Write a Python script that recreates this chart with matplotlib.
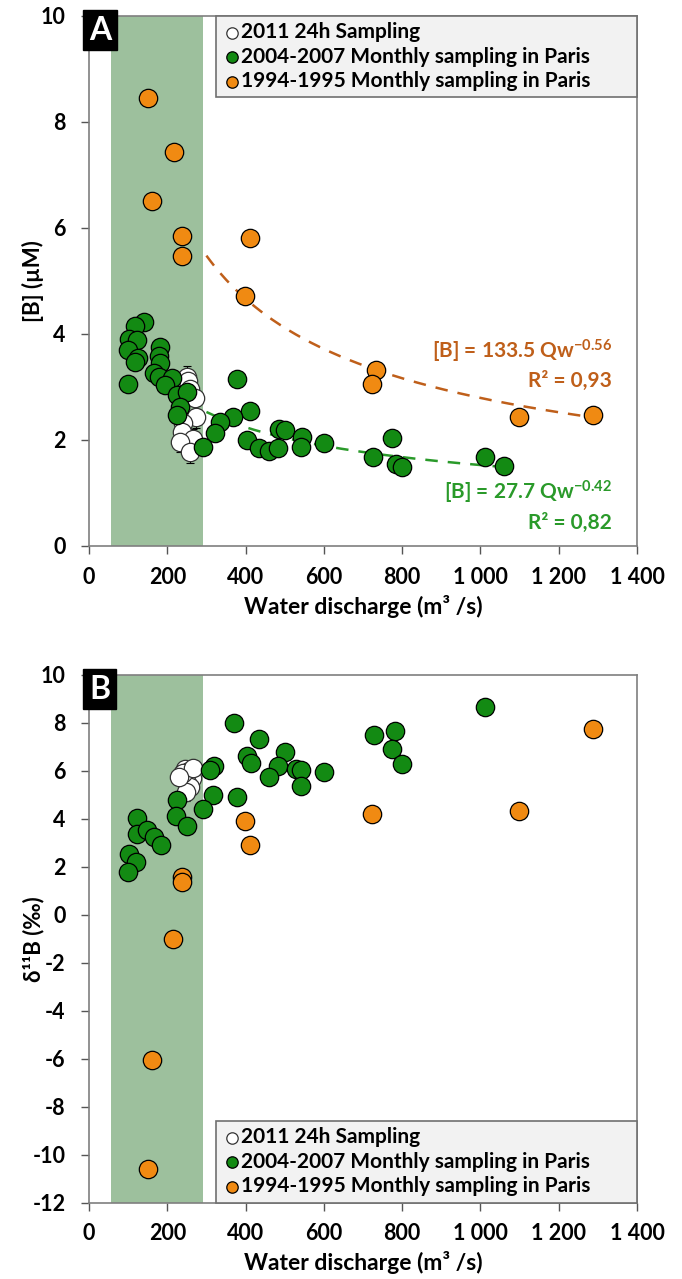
import numpy as np
import matplotlib
matplotlib.use("Agg")
import matplotlib.pyplot as plt
from matplotlib.ticker import FuncFormatter

plt.rcParams['font.family'] = ['Lato', 'DejaVu Sans']
plt.rcParams['font.weight'] = 'bold'
plt.rcParams['axes.unicode_minus'] = False
plt.rcParams['mathtext.fontset'] = 'custom'
plt.rcParams['mathtext.rm'] = 'Lato:bold'
plt.rcParams['mathtext.bf'] = 'Lato:bold'
plt.rcParams['mathtext.it'] = 'Lato:bold'
plt.rcParams['mathtext.default'] = 'bf'

# ---- data ----
# panel A : [B] (uM) vs water discharge (m3/s)
a_white_q = [250, 252, 258, 271, 273, 241, 237, 266, 232, 258]
a_white_b = [3.19, 3.10, 2.96, 2.78, 2.43, 2.31, 2.15, 2.01, 1.96, 1.77]

a_green_q = [141, 117, 103, 122, 100, 126, 117, 181, 179, 181, 166, 180, 99, 211,
             194, 224, 251, 232, 224, 377, 411, 369, 335, 322, 292, 403, 434, 460,
             484, 486, 502, 543, 541, 600, 726, 773, 784, 799, 1012, 1060]
a_green_b = [4.23, 4.15, 3.91, 3.89, 3.69, 3.54, 3.47, 3.75, 3.58, 3.44, 3.26, 3.19,
             3.05, 3.16, 3.03, 2.84, 2.91, 2.62, 2.47, 3.14, 2.54, 2.43, 2.34, 2.12,
             1.86, 1.99, 1.84, 1.79, 1.84, 2.21, 2.18, 2.06, 1.86, 1.93, 1.68, 2.04,
             1.54, 1.48, 1.67, 1.51]

a_orange_q = [151, 216, 162, 237, 237, 412, 398, 733, 723, 1099, 1288]
a_orange_b = [8.44, 7.43, 6.50, 5.84, 5.46, 5.81, 4.72, 3.31, 3.05, 2.42, 2.46]

# panel B : delta11B (permil) vs water discharge
b_white_q = [237, 245, 255, 262, 250, 258, 247, 240, 266, 230]
b_white_d = [5.85, 6.05, 6.00, 5.70, 5.50, 5.30, 5.10, 5.90, 6.10, 5.75]

b_green_q = [370, 435, 403, 413, 502, 482, 460, 529, 542, 541, 600, 320, 309, 377,
             316, 292, 224, 221, 251, 122, 123, 147, 166, 183, 103, 120, 100, 1012,
             729, 783, 773, 799]
b_green_d = [8.00, 7.31, 6.63, 6.31, 6.79, 6.21, 5.75, 6.07, 6.03, 5.38, 5.93, 6.21,
             6.03, 4.92, 4.99, 4.39, 4.78, 4.11, 3.70, 4.02, 3.36, 3.53, 3.22, 2.90,
             2.52, 2.21, 1.79, 8.64, 7.47, 7.65, 6.90, 6.27]

b_orange_q = [151, 162, 215, 237, 237, 398, 411, 724, 1099, 1288]
b_orange_d = [-10.6, -6.05, -1.03, 1.58, 1.38, 3.90, 2.90, 4.20, 4.32, 7.72]

# power-law fits  [B] = a * Qw^b
fit_orange = (133.5, -0.56, 300, 1290)
fit_green = (27.7, -0.42, 300, 1060)

low_flow = (55, 292)

legend_labels = ["2011 24h Sampling",
                 "2004-2007 Monthly sampling in Paris",
                 "1994-1995 Monthly sampling in Paris"]

C_GREEN = "#138a13"
C_ORANGE = "#f08a12"
C_SPAN = "#9dc09d"
C_ORFIT = "#bf5f1a"
C_GRFIT = "#2a9a2a"


def thousands(v, pos):
    v = int(round(v))
    if v >= 1000:
        return "{} {:03d}".format(v // 1000, v % 1000)
    return str(v)


def style_axes(ax, ylim, yticks):
    ax.set_xlim(0, 1400)
    ax.set_ylim(*ylim)
    ax.set_xticks(range(0, 1401, 200))
    ax.set_yticks(yticks)
    ax.xaxis.set_major_formatter(FuncFormatter(thousands))
    ax.tick_params(direction='out', length=6, width=1, color='#555555',
                   labelsize=15.5)
    ax.tick_params(axis='x', pad=9)
    ax.tick_params(axis='y', pad=11)
    for lab in ax.get_xticklabels() + ax.get_yticklabels():
        lab.set_fontweight('bold')
    for s in ax.spines.values():
        s.set_color('#7f7f7f')
        s.set_linewidth(1.2)
    ax.axvspan(low_flow[0], low_flow[1], color=C_SPAN, zorder=0, lw=0)
    ax.set_xlabel("Water discharge (m³ /s)", fontsize=16.5, fontweight='bold',
                  labelpad=5)


def panel_tag(ax, letter):
    ax.text(0.0, 1.0, letter, transform=ax.transAxes, ha='left', va='top',
            color='white', fontsize=23, fontweight='bold',
            bbox=dict(boxstyle='square,pad=0.18', fc='black', ec='black'),
            zorder=10)


def plot_points(ax, wq, wv, gq, gv, oq, ov, werr):
    ax.errorbar(wq, wv, yerr=werr, fmt='none', ecolor='black', elinewidth=0.8,
                capsize=3, capthick=0.8, zorder=2)
    h1 = ax.scatter(wq, wv, s=175, c='white', edgecolors='#333333',
                    linewidths=0.9, zorder=3)
    h2 = ax.scatter(gq, gv, s=175, c=C_GREEN, edgecolors='black',
                    linewidths=0.9, zorder=4)
    h3 = ax.scatter(oq, ov, s=175, c=C_ORANGE, edgecolors='black',
                    linewidths=0.9, zorder=5)
    return [h1, h2, h3]


def add_legend(ax, handles, box, loc):
    leg = ax.legend(handles, legend_labels, loc=loc,
                    bbox_to_anchor=box, mode='expand', fontsize=15,
                    markerscale=0.62, handletextpad=0.0, handlelength=0.9,
                    labelspacing=0.22, borderpad=0.3, fancybox=False,
                    framealpha=1, facecolor='#f2f2f2', edgecolor='#707070',
                    borderaxespad=0)
    leg.get_frame().set_linewidth(1.2)
    for t in leg.get_texts():
        t.set_fontweight('bold')
    leg.set_zorder(12)
    return leg


fig = plt.figure(figsize=(6.82, 12.79), dpi=100)
ax1 = fig.add_axes([0.1305, 0.5733, 0.8035, 0.4144])
ax2 = fig.add_axes([0.1305, 0.0597, 0.8035, 0.4128])

# ---- panel A ----
style_axes(ax1, (0, 10), range(0, 11, 2))
ax1.set_ylabel("[B] (µM)", fontsize=16, fontweight='bold')
ax1.yaxis.set_label_coords(-0.082, 0.5)
h = plot_points(ax1, a_white_q, a_white_b, a_green_q, a_green_b,
                a_orange_q, a_orange_b, 0.2)

for (a, b, q0, q1), col in [(fit_orange, C_ORFIT), (fit_green, C_GRFIT)]:
    q = np.linspace(q0, q1, 200)
    ax1.plot(q, a * q ** b, ls=(0, (5, 4)), color=col, lw=1.8, zorder=1)

ax1.text(0.955, 0.367, "[B] = 133.5 Qw$^{-0.56}$", transform=ax1.transAxes,
         ha='right', va='center', color=C_ORFIT, fontsize=15, fontweight='bold')
ax1.text(0.955, 0.311, "R² = 0,93", transform=ax1.transAxes,
         ha='right', va='center', color=C_ORFIT, fontsize=15, fontweight='bold')
ax1.text(0.955, 0.100, "[B] = 27.7 Qw$^{-0.42}$", transform=ax1.transAxes,
         ha='right', va='center', color=C_GRFIT, fontsize=15, fontweight='bold')
ax1.text(0.955, 0.043, "R² = 0,82", transform=ax1.transAxes,
         ha='right', va='center', color=C_GRFIT, fontsize=15, fontweight='bold')

panel_tag(ax1, "A")
add_legend(ax1, h, (0.232, 0.84, 0.768, 0.16), 'upper left')

# ---- panel B ----
style_axes(ax2, (-12, 10), range(-12, 11, 2))
ax2.set_ylabel("δ¹¹B (‰)", fontsize=16, fontweight='bold')
ax2.yaxis.set_label_coords(-0.082, 0.5)
h = plot_points(ax2, b_white_q, b_white_d, b_green_q, b_green_d,
                b_orange_q, b_orange_d, 0.35)
panel_tag(ax2, "B")
add_legend(ax2, h, (0.232, 0.0, 0.768, 0.16), 'lower left')

fig.savefig("out.png", dpi=100)
